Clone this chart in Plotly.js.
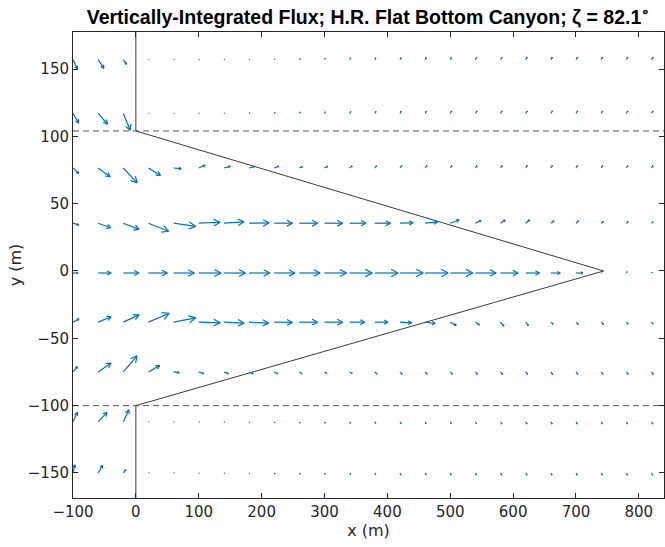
<!DOCTYPE html>
<html>
<head>
<meta charset="utf-8">
<script src="https://cdn.plot.ly/plotly-3.0.1.min.js"></script>
<style>html,body{margin:0;padding:0;background:#fff;}#chart{width:665px;height:547px;}</style>
</head>
<body>
<div id="chart"></div>
<script>
// Grid of quiver tails
const xGrid = [-100, -60, -20, 20, 60, 100, 140, 180, 220, 260, 300, 340, 380, 420, 460, 500, 540, 580, 620, 660, 700, 740, 780, 820];
const yRows = [157, 117, 76.5, 35.5, -1.5, -38, -75, -112, -150];

// Drawn vector components (m) for each row, top to bottom
const U1 = [7, 9, 5, 1, 1, 1, 1, 1, 1.2, 1.5, 1.5, 1.6, 1.7, 1.8, 1.9, 2, 2.1, 2.2, 2.3, 2.3, 2.4, 2.4, 2.4, 2.4];
const V1 = [-7, -6.5, -3.5, 0, 0, 0, 0.2, 0.3, 0.5, 0.8, 1, 1.2, 1.3, 1.4, 1.5, 1.6, 1.7, 1.7, 1.8, 1.8, 1.8, 1.8, 1.8, 1.8];
const U2 = [9, 15, 11, 1, 1, 1, 1, 1.2, 1.3, 1.5, 1.6, 1.8, 2, 2, 2.2, 2.3, 2.4, 2.4, 2.5, 2.5, 2.5, 2.5, 2.5, 2.5];
const V2 = [-7, -8, -12.5, 0, 0, 0.2, 0.3, 0.5, 0.8, 1, 1.2, 1.4, 1.5, 1.6, 1.7, 1.8, 1.8, 1.8, 1.8, 1.8, 1.8, 1.8, 1.8, 1.8];
const U3 = [9, 19, 22, 19, 12, 10, 10, 8, 7, 5, 5, 4, 3, 3, 2.8, 2.8, 2.6, 2.6, 2.5, 2.5, 2.5, 2.5, 2.5, 2.5];
const V3 = [-4, -6.5, -11, -5.5, -0.5, 2, 1.2, 1, 1.3, 1, 1.2, 1.5, 1.6, 1.7, 1.8, 1.8, 1.8, 1.8, 1.8, 1.8, 1.8, 1.8, 1.8, 1.8];
const U4 = [9, 20, 25, 32, 35, 34, 32, 32, 29, 29, 29, 26, 25, 21, 20, 14, 9, 7.4, 6, 5, 4, 3.7, 3, 2.5];
const V4 = [-1.2, -3.4, -4.6, -6, -2.4, 0.7, 1, 0.3, 0, 0, 0, 0, 0, 0.3, 1, 2.4, 2, 2.4, 2.4, 1.7, 1.7, 1.2, 1.2, 1];
const U5 = [8, 20.6, 25, 30, 33, 35.5, 34.4, 33, 33, 33, 35, 36, 37, 37, 36.6, 36, 33, 28, 22, 15, 11, 1, 1.5, 1.5];
const V5 = [0, 0, 0, 0, 0, 0, 0, 0, 0, 0, 0, 0, 0, 0, 0, 0, 0, 0, 0, 0, 0, 0, 1, 0.5];
const U6 = [9.5, 20.6, 25, 33, 35, 34, 32, 31, 29, 29, 29, 24, 21, 18.5, 16, 9.5, 6.3, 5.3, 4.2, 3.7, 3.7, 3.7, 3, 2.5];
const V6 = [2.4, 4, 5.4, 6.6, 3.2, -0.5, -0.7, -0.7, -0.2, 0, 0, 0, 0, -0.5, -1, -2.4, -2, -2.9, -2.4, -1.5, -1.7, -1.7, -1.5, -1.2];
const U7 = [7, 20.6, 22, 18, 9, 8, 7, 6.3, 5.3, 4.2, 3.7, 4, 3.5, 3.5, 3.3, 3.3, 3.2, 3.2, 3, 3, 3, 3, 3, 3];
const V7 = [4, 6.6, 12, 4.9, -0.5, -1.2, -1.2, -1.2, -1.2, -1.2, -1.2, -1.2, -1.5, -1.6, -1.7, -1.7, -1.7, -1.7, -1.7, -1.7, -1.7, -1.7, -1.7, -1.7];
const U8 = [7, 14, 9, 1, 1, 1, 1, 1, 1.2, 1.3, 1.4, 1.5, 1.5, 1.5, 1.6, 1.7, 1.8, 1.9, 2, 2, 2, 2, 2, 2];
const V8 = [7, 7, 9, 0, 0, -0.2, -0.3, -0.5, -0.7, -0.9, -1, -1.1, -1.2, -1.3, -1.4, -1.5, -1.5, -1.6, -1.6, -1.6, -1.6, -1.6, -1.6, -1.6];
const U9 = [3, 7, 4, 1, 1, 1, 1, 1, 1.2, 1.3, 1.4, 1.5, 1.5, 1.5, 1.6, 1.7, 1.8, 1.9, 2, 2, 2, 2, 2, 2];
const V9 = [6, 5.5, 2.5, 0, 0, -0.2, -0.3, -0.5, -0.7, -0.9, -1, -1.1, -1.2, -1.3, -1.4, -1.5, -1.5, -1.6, -1.6, -1.6, -1.6, -1.6, -1.6, -1.6];

// Canyon outline
const wallX = [0, 744, 0];
const wallY = [104, 0, -100];
const topEdgeY = 104;
const bottomEdgeY = -100;

const xRange = [-100, 840];
const yRange = [-168.6, 177.5];
const W = 665, H = 547;
const M = {l: 73, r: 1, t: 32, b: 49};

const Urows = [U1, U2, U3, U4, U5, U6, U7, U8, U9];
const Vrows = [V1, V2, V3, V4, V5, V6, V7, V8, V9];

// pixel scale (for arrowhead shape only)
const sx = (W - M.l - M.r) / (xRange[1] - xRange[0]);
const sy = (H - M.t - M.b) / (yRange[1] - yRange[0]);

const qx = [], qy = [];
yRows.forEach((y0, r) => {
  xGrid.forEach((x0, c) => {
    const u = Urows[r][c], v = Vrows[r][c];
    const x1 = x0 + u, y1 = y0 + v;
    qx.push(x0, x1, null);
    qy.push(y0, y1, null);
    const dxp = u * sx, dyp = v * sy;
    const back = 0.3, side = 0.16;
    const bx = dxp * (1 - back), by = dyp * (1 - back);
    const b1x = bx - side * dyp, b1y = by + side * dxp;
    const b2x = bx + side * dyp, b2y = by - side * dxp;
    qx.push(x0 + b1x / sx, x1, x0 + b2x / sx, null);
    qy.push(y0 + b1y / sy, y1, y0 + b2y / sy, null);
  });
});

const lineCol = '#3a3a3a';
const traces = [
  {x: [xRange[0], xRange[1]], y: [topEdgeY, topEdgeY], mode: 'lines', line: {color: '#555', width: 1, dash: '6px,4px'}, hoverinfo: 'skip'},
  {x: [xRange[0], xRange[1]], y: [bottomEdgeY, bottomEdgeY], mode: 'lines', line: {color: '#555', width: 1, dash: '6px,4px'}, hoverinfo: 'skip'},
  {x: [0, 0], y: [yRange[1], wallY[0]], mode: 'lines', line: {color: lineCol, width: 1}, hoverinfo: 'skip'},
  {x: [0, 0], y: [wallY[2], yRange[0]], mode: 'lines', line: {color: lineCol, width: 1}, hoverinfo: 'skip'},
  {x: wallX, y: wallY, mode: 'lines', line: {color: lineCol, width: 1}, hoverinfo: 'skip'},
  {x: qx, y: qy, mode: 'lines', line: {color: '#0072BD', width: 1.2}, connectgaps: false, hoverinfo: 'skip'}
];

const axisCommon = {
  showline: true, mirror: 'ticks', ticks: 'inside', ticklen: 5, tickwidth: 1,
  linecolor: '#262626', tickcolor: '#262626', linewidth: 1,
  showgrid: false, zeroline: false,
  tickfont: {family: 'DejaVu Sans', size: 15, color: '#262626'}
};

const layout = {
  width: W, height: H,
  margin: M,
  paper_bgcolor: '#fff', plot_bgcolor: '#fff',
  showlegend: false,
  title: {
    text: 'Vertically-Integrated Flux; H.R. Flat Bottom Canyon; ζ = 82.1<sup>∘</sup>',
    font: {family: 'Liberation Sans', size: 19.5, color: '#000', weight: 'bold'},
    xref: 'paper', x: 0.5, xanchor: 'center',
    yref: 'container', y: 1 - 17 / H, yanchor: 'middle'
  },
  xaxis: Object.assign({}, axisCommon, {
    range: xRange, tickvals: [-100, 0, 100, 200, 300, 400, 500, 600, 700, 800],
    title: {text: 'x (m)', font: {family: 'DejaVu Sans', size: 16, color: '#262626'}, standoff: 4}
  }),
  yaxis: Object.assign({}, axisCommon, {
    range: yRange, tickvals: [-150, -100, -50, 0, 50, 100, 150],
    title: {text: 'y (m)', font: {family: 'DejaVu Sans', size: 16, color: '#262626'}, standoff: 2}
  })
};

Plotly.newPlot('chart', traces, layout, {staticPlot: true, displayModeBar: false});
</script>
</body>
</html>
